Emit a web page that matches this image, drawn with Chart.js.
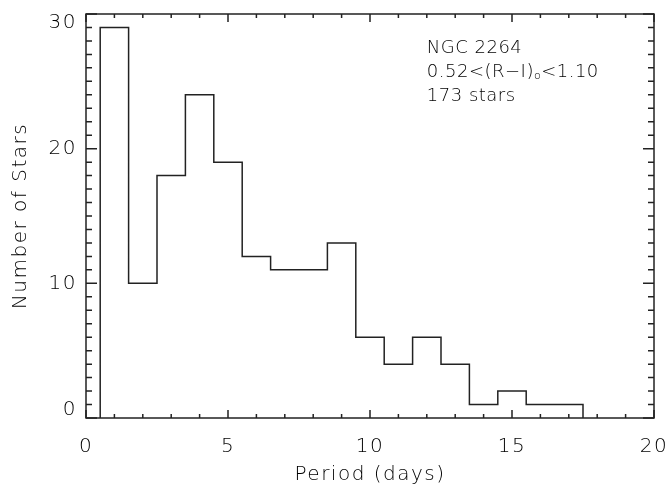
<!DOCTYPE html>
<html><head><meta charset="utf-8">
<script src="https://cdn.jsdelivr.net/npm/chart.js@4"></script>
<style>html,body{margin:0;padding:0;background:#fff}#wrap{width:669px;height:485px}</style>
</head><body><div id="wrap"><canvas id="c" width="669" height="485"></canvas></div>
<script>
// Bin centres (days) and counts per 1-day bin
const binCenters = [1,2,3,4,5,6,7,8,9,10,11,12,13,14,15,16,17];
const counts =     [29,10,18,24,19,12,11,11,13,6,4,6,4,1,2,1,1];
const binWidth = 1;
const xTicks = [0,5,10,15,20];
const yTicks = [0,10,20,30];
const annotLines = ["NGC 2264", "0.52<(R\u2212I)", "173 stars"];

const FONT = "'DejaVu Sans', sans-serif";
const INK = '#222';
const TXT = '#000';
const LS = '1.5px';
const Y_MIN = yTicks[0], Y_MAX = yTicks[yTicks.length-1];

// stepped outline points
const pts = [{x: binCenters[0]-binWidth/2, y: 0}];
binCenters.forEach((c,i)=>pts.push({x: c-binWidth/2, y: counts[i]}));
pts.push({x: binCenters[binCenters.length-1]+binWidth/2, y: 0});

const boxPlugin = {
  id: 'box',
  beforeDraw(chart){ chart.ctx.letterSpacing = LS; },
  afterDraw(chart){
    const {ctx, chartArea:a, scales:{x, y}} = chart;
    ctx.save();
    ctx.letterSpacing = '0px';
    ctx.strokeStyle = INK; ctx.lineWidth = 1.5;
    ctx.strokeRect(a.left, a.top, a.right-a.left, a.bottom-a.top);
    ctx.beginPath();
    for(let v=0; v<=20; v+=1){
      const px = x.getPixelForValue(v);
      const L = (v%5===0) ? 8 : 4;
      ctx.moveTo(px, a.bottom); ctx.lineTo(px, a.bottom-L);
      ctx.moveTo(px, a.top); ctx.lineTo(px, a.top+L);
    }
    for(let v=0; v<=30; v+=1){
      const py = y.getPixelForValue(v);
      const L = (v%10===0) ? 11 : 6;
      ctx.moveTo(a.left, py); ctx.lineTo(a.left+L, py);
      ctx.moveTo(a.right, py); ctx.lineTo(a.right-L, py);
    }
    ctx.stroke();
    // annotation
    ctx.letterSpacing = '0.5px';
    ctx.fillStyle = TXT;
    ctx.font = "200 18px " + FONT;
    ctx.textBaseline = 'alphabetic';
    const tx = x.getPixelForValue(12.0);
    const ty = y.getPixelForValue(27.1);
    ctx.fillText(annotLines[0], tx, ty);
    ctx.fillText(annotLines[1], tx, ty+24);
    let w = ctx.measureText(annotLines[1]).width;
    ctx.font = "200 11px " + FONT;
    ctx.fillText("o", tx+w, ty+24+2);
    let w2 = ctx.measureText("o").width;
    ctx.font = "200 18px " + FONT;
    ctx.fillText("<1.10", tx+w+w2, ty+24);
    ctx.fillText(annotLines[2], tx, ty+48);
    ctx.restore();
  }
};

new Chart(document.getElementById('c'), {
  type: 'line',
  data: { datasets: [{
    data: pts, stepped: 'before', borderColor: INK, borderWidth: 1.5,
    pointRadius: 0, fill: false, tension: 0
  }]},
  options: {
    responsive: false, animation: false,
    layout: { padding: { left: 0, right: 15, top: 14, bottom: 0 } },
    plugins: { legend: {display:false}, tooltip: {enabled:false} },
    scales: {
      x: {
        type: 'linear', min: 0, max: 20,
        afterBuildTicks: s => { s.ticks = xTicks.map(v=>({value:v})); },
        afterFit: s => { s.height = 67; s.paddingLeft = 0; s.paddingRight = 0; },
        grid: { display: false, drawTicks: false },
        border: { display: false },
        ticks: { color: TXT, font: {family: FONT, size: 20, weight: '200'}, padding: 17, maxRotation: 0 },
        title: { display: true, text: 'Period (days)', color: TXT, font: {family: FONT, size: 20, weight: '200'}, padding: {top: 0, bottom: -2} }
      },
      y: {
        min: Y_MIN, max: Y_MAX,
        afterBuildTicks: s => { s.ticks = yTicks.map(v=>({value:v})); },
        afterFit: s => { s.width = 86; s.paddingTop = 0; s.paddingBottom = 0; },
        grid: { display: false, drawTicks: false },
        border: { display: false },
        ticks: {
          color: TXT, padding: 9,
          font: c => ({family: FONT, size: 20, weight: '200',
                       lineHeight: (c.tick && (c.tick.value === Y_MIN || c.tick.value === Y_MAX)) ? 0.85 : 1.2}),
          // end labels kept inside the frame, as in the original
          callback: v => v === Y_MIN ? [String(v), ''] : (v === Y_MAX ? ['', String(v)] : String(v))
        },
        title: { display: true, text: 'Number of Stars', color: TXT, font: {family: FONT, size: 20, weight: '200'}, padding: {top: 9, bottom: 0} }
      }
    }
  },
  plugins: [boxPlugin]
});
</script></body></html>
